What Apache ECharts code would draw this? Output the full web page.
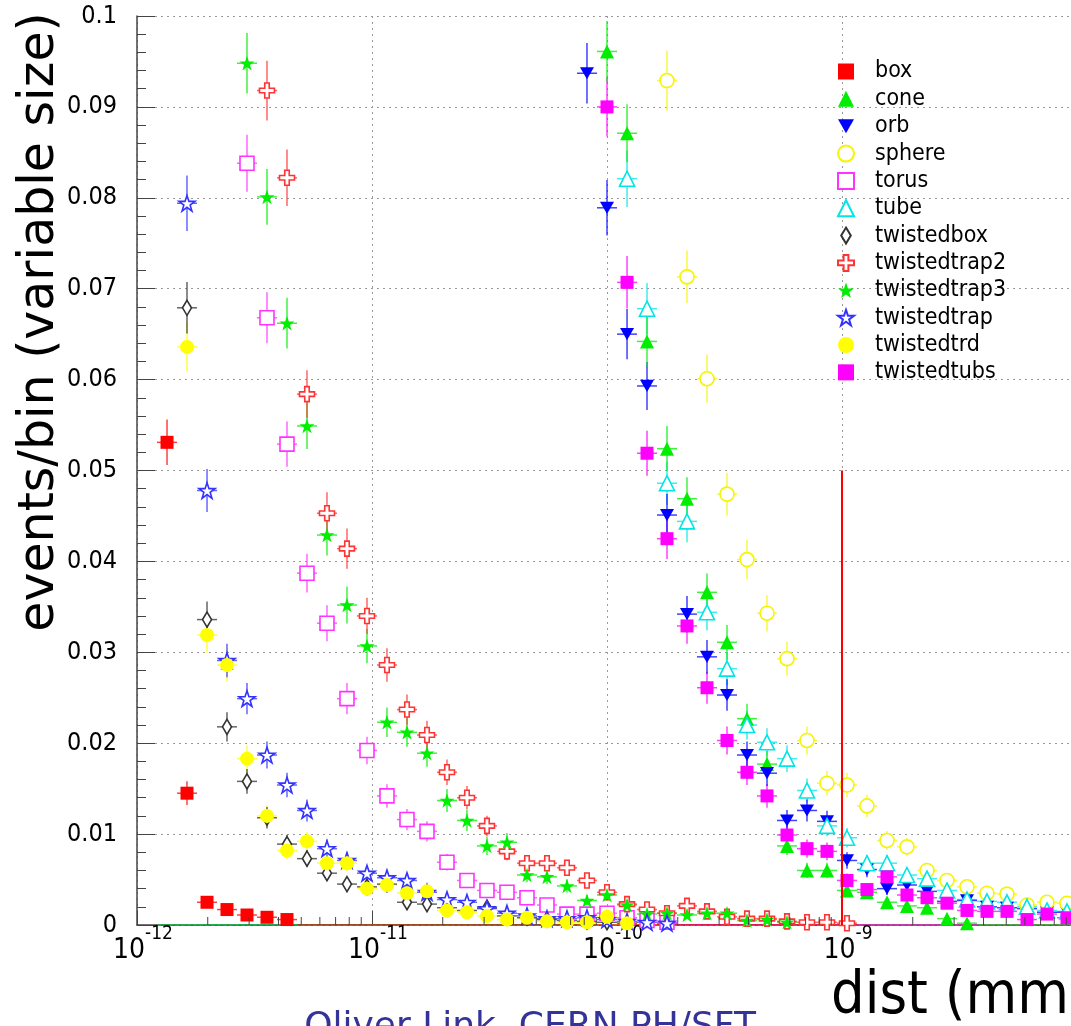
<!DOCTYPE html>
<html>
<head>
<meta charset="utf-8">
<script src="https://cdn.jsdelivr.net/npm/echarts@6/dist/echarts.min.js"></script>
<style>
  html, body { margin: 0; padding: 0; overflow: hidden; background: #fff; }
  #chart { width: 1100px; height: 1026px; }
</style>
</head>
<body>
<div id="chart"></div>
<script>
// bin centres (mm): 47 log bins over 1e-12 .. 1e-8, the first one is empty
const binCenters = [
  1.342e-12, 1.632e-12, 1.986e-12, 2.415e-12, 2.938e-12, 3.574e-12, 4.348e-12, 5.289e-12, 6.433e-12, 7.826e-12,
  9.521e-12, 1.158e-11, 1.409e-11, 1.714e-11, 2.085e-11, 2.536e-11, 3.085e-11, 3.753e-11, 4.566e-11, 5.554e-11,
  6.756e-11, 8.218e-11, 1.000e-10, 1.217e-10, 1.480e-10, 1.800e-10, 2.190e-10, 2.664e-10, 3.241e-10, 3.942e-10,
  4.796e-10, 5.834e-10, 7.096e-10, 8.633e-10, 1.050e-9, 1.277e-9, 1.554e-9, 1.890e-9, 2.300e-9, 2.797e-9,
  3.403e-9, 4.139e-9, 5.036e-9, 6.126e-9, 7.452e-9, 9.065e-9
]

// events/bin per solid
const box = [
  0.0531, 0.0145, 0.0025, 0.0017, 0.0011, 0.00085, 0.0006, 0, 0, 0,
  0, 0, 0, 0, 0, 0, 0, 0, 0, 0,
  0, 0, 0, 0, 0, 0, 0, 0, 0, 0,
  0, 0, 0, 0, 0, null, null, null, null, null,
  null, null, null, null, null, null
]
const cone = [
  0, 0, 0, 0, 0, 0, 0, 0, 0, 0,
  0, 0, 0, 0, 0, 0, 0, 0, 0, 0,
  0, 0, 0.0961, 0.0871, 0.0642, 0.0524, 0.0469, 0.0366, 0.0311, 0.0227,
  0.0177, 0.0087, 0.0060, 0.0060, 0.0038, 0.0036, 0.0025, 0.0021, 0.0019, 0.0007,
  0.0002, 0, 0, 0, 0, 0
]
const orb = [
  0, 0, 0, 0, 0, 0, 0, 0, 0, 0,
  0, 0, 0, 0, 0, 0, 0, 0, 0, 0,
  0, 0.0937, 0.0789, 0.0650, 0.0593, 0.0451, 0.0342, 0.0295, 0.0253, 0.0187,
  0.0167, 0.0115, 0.0126, 0.0114, 0.0071, 0.0061, 0.0040, 0.0044, 0.0037, 0.0026,
  0.0027, 0.0020, 0.0019, 0.0018, 0.0014, 0.0014
]
const sphere = [
  0, 0, 0, 0, 0, 0, 0, 0, 0, 0,
  0, 0, 0, 0, 0, 0, 0, 0, 0, 0,
  0, 0, 0, 0, 0, 0.0929, 0.0713, 0.0601, 0.0474, 0.0402,
  0.0343, 0.0293, 0.0203, 0.0156, 0.0154, 0.0131, 0.0093, 0.0086, 0.0060, 0.0049,
  0.0042, 0.0035, 0.0034, 0.0022, 0.0025, 0.0024
]
const torus = [
  0, 0, 0, 0, 0.0838, 0.0668, 0.0529, 0.0387, 0.0332, 0.0249,
  0.0192, 0.0142, 0.0116, 0.0103, 0.0069, 0.0049, 0.0038, 0.0036, 0.0030, 0.0022,
  0.0012, 0.0012, 0.0013, 0.0008, 0.0005, 0.0003, 0, 0, 0, 0,
  0, 0, 0, 0, 0, 0, 0, 0, 0, 0,
  0, 0, 0, 0, 0, 0
]
const tube = [
  0, 0, 0, 0, 0, 0, 0, 0, 0, 0,
  0, 0, 0, 0, 0, 0, 0, 0, 0, 0,
  0, 0, 0, 0.0821, 0.0678, 0.0486, 0.0444, 0.0344, 0.0282, 0.0220,
  0.0201, 0.0183, 0.0148, 0.0109, 0.0096, 0.0068, 0.0068, 0.0055, 0.0051, 0.0038,
  0.0028, 0.0026, 0.0025, 0.0020, 0.0016, 0.0015
]
const twistedbox = [
  0, 0.0679, 0.0336, 0.0218, 0.0158, 0.0118, 0.0089, 0.0073, 0.0057, 0.0045,
  0.0042, 0.0045, 0.0025, 0.0023, 0.0019, 0.0016, 0.0019, 0.0010, 0.0008, 0.0006,
  0.0005, 0.0004, 0.0003, 0.0002, 0, 0, 0, 0, 0, 0,
  0, 0, 0, 0, 0, 0, 0, 0, 0, 0,
  0, 0, 0, 0, 0, 0
]
const twistedtrap2 = [
  0, 0, 0, 0, 0, 0.0918, 0.0822, 0.0584, 0.0453, 0.0414,
  0.0340, 0.0286, 0.0237, 0.0209, 0.0168, 0.0140, 0.0109, 0.0081, 0.0068, 0.0068,
  0.0063, 0.0049, 0.0036, 0.0023, 0.0017, 0.0013, 0.0021, 0.0015, 0.0009, 0.0007,
  0.0007, 0.0004, 0.0003, 0.0003, 0.0002, 0, 0, 0, 0, 0,
  0, 0, 0, 0, 0, 0
]
const twistedtrap3 = [
  0, 0, 0, 0, 0.0948, 0.0801, 0.0662, 0.0549, 0.0429, 0.0352,
  0.0307, 0.0223, 0.0212, 0.0189, 0.0137, 0.0115, 0.0087, 0.0091, 0.0055, 0.0053,
  0.0043, 0.0027, 0.0033, 0.0022, 0.0012, 0.0013, 0.0011, 0.0013, 0.0013, 0.0005,
  0.0006, 0.0003, 0, 0, 0, 0, 0, 0, 0, 0,
  0, 0, 0, 0, 0, 0
]
const twistedtrap = [
  0, 0.0794, 0.0478, 0.0291, 0.0249, 0.0187, 0.0154, 0.0126, 0.0084, 0.0071,
  0.0057, 0.0052, 0.0049, 0.0036, 0.0028, 0.0025, 0.0018, 0.0013, 0.0010, 0.0007,
  0.0007, 0.0008, 0.0006, 0.0004, 0.0003, 0.0002, 0, 0, 0, 0,
  0, 0, 0, 0, 0, 0, 0, 0, 0, 0,
  0, 0, 0, 0, 0, 0
]
const twistedtrd = [
  0, 0.0636, 0.0319, 0.0286, 0.0183, 0.0120, 0.0082, 0.0092, 0.0068, 0.0068,
  0.0040, 0.0044, 0.0035, 0.0037, 0.0016, 0.0014, 0.0010, 0.0006, 0.0008, 0.0004,
  0.0003, 0.0003, 0.0009, 0.0002, 0, 0, 0, 0, 0, 0,
  0, 0, 0, 0, 0, 0, 0, 0, 0, 0,
  0, 0, 0, 0, 0, 0
]
const twistedtubs = [
  0, 0, 0, 0, 0, 0, 0, 0, 0, 0,
  0, 0, 0, 0, 0, 0, 0, 0, 0, 0,
  0, 0, 0.0900, 0.0707, 0.0519, 0.0425, 0.0329, 0.0261, 0.0203, 0.0168,
  0.0142, 0.0099, 0.0084, 0.0081, 0.0049, 0.0039, 0.0053, 0.0033, 0.0030, 0.0024,
  0.0016, 0.0015, 0.0015, 0.0006, 0.0012, 0.0008
]

// axis ticks
const yTicks = [0, 0.01, 0.02, 0.03, 0.04, 0.05, 0.06, 0.07, 0.08, 0.09, 0.1]
const xMinorTicks = [
  2e-12, 3e-12, 4e-12, 5e-12, 6e-12, 7e-12, 8e-12, 9e-12,
  2e-11, 3e-11, 4e-11, 5e-11, 6e-11, 7e-11, 8e-11, 9e-11,
  2e-10, 3e-10, 4e-10, 5e-10, 6e-10, 7e-10, 8e-10, 9e-10,
  2e-9, 3e-9, 4e-9, 5e-9, 6e-9, 7e-9, 8e-9, 9e-9
]

// red cut line at 1e-9 mm
const cutDist = 1e-9
const cutRange = [0, 0.05]

const eventsPerSolid = 8500      // for the sqrt(N) error bars
const binHalfWidth = Math.pow(10, 2 / 47)

const FONT = '"DejaVu Sans Condensed", "DejaVu Sans", sans-serif'

const STAR = 'path://M50,0L61.8,35.4L97.6,35.4L68.6,57.3L79.4,92.7L50,70.8L20.6,92.7L31.4,57.3L2.4,35.4L38.2,35.4Z'
const CROSS = 'path://M35,0H65V35H100V65H65V100H35V65H0V35H35Z'
const DIAMOND = 'path://M30,0L60,50L30,100L0,50Z'
const TRI_DOWN = 'path://M0,0L100,0L50,87Z'

const solids = [
  { name: 'box', values: box, color: '#ff0000', symbol: 'rect', size: 13, open: false },
  { name: 'cone', values: cone, color: '#00ee00', symbol: 'triangle', size: 14, open: false },
  { name: 'orb', values: orb, color: '#0000ff', symbol: TRI_DOWN, size: 14, open: false },
  { name: 'sphere', values: sphere, color: '#f5f500', symbol: 'circle', size: 14, open: true },
  { name: 'torus', values: torus, color: '#ff33ff', symbol: 'rect', size: 14, open: true },
  { name: 'tube', values: tube, color: '#00e5e5', symbol: 'triangle', size: 15, open: true },
  { name: 'twistedbox', values: twistedbox, color: '#333333', symbol: DIAMOND, size: 15, open: true },
  { name: 'twistedtrap2', values: twistedtrap2, color: '#ff3333', symbol: CROSS, size: 15, open: true },
  { name: 'twistedtrap3', values: twistedtrap3, color: '#00ee00', symbol: STAR, size: 15, open: false },
  { name: 'twistedtrap', values: twistedtrap, color: '#3333ff', symbol: STAR, size: 16, open: true },
  { name: 'twistedtrd', values: twistedtrd, color: '#ffff00', symbol: 'circle', size: 14, open: false },
  { name: 'twistedtubs', values: twistedtubs, color: '#ff00ff', symbol: 'rect', size: 13, open: false },
]

function pointsOf(values, keepZero) {
  const out = []
  values.forEach((v, i) => {
    if (v == null) return
    if (!keepZero && v <= 0) return
    out.push([binCenters[i], v])
  })
  return out
}

function markerSeries(s) {
  return {
    type: 'scatter',
    name: s.name,
    z: 4,
    symbol: s.symbol,
    symbolSize: s.size,
    symbolKeepAspect: true,
    itemStyle: s.open
      ? { color: '#ffffff', borderColor: s.color, borderWidth: 1.6, opacity: 1 }
      : { color: s.color, opacity: 1 },
    emphasis: { disabled: true },
    data: pointsOf(s.values, false),
  }
}

// vertical sqrt(N) error + horizontal bin width
function errorSeries(s) {
  return {
    type: 'custom',
    name: s.name + ' errors',
    z: 2,
    silent: true,
    clip: true,
    data: pointsOf(s.values, true),
    renderItem: (params, api) => {
      const x = api.value(0)
      const y = api.value(1)
      const err = Math.sqrt(y / eventsPerSolid)
      const left = api.coord([x / binHalfWidth, y])
      const right = api.coord([x * binHalfWidth, y])
      const style = { stroke: s.color, lineWidth: 1.5, opacity: 0.75 }
      const children = [
        { type: 'line', shape: { x1: left[0], y1: left[1], x2: right[0], y2: right[1] }, style },
      ]
      if (err > 0) {
        const top = api.coord([x, y + err])
        const bottom = api.coord([x, Math.max(y - err, 0)])
        children.push({ type: 'line', shape: { x1: top[0], y1: top[1], x2: bottom[0], y2: bottom[1] }, style })
      }
      return { type: 'group', children }
    },
  }
}

const chart = echarts.init(document.getElementById('chart'))

const option = {
  animation: false,
  backgroundColor: '#ffffff',
  grid: { left: 137, top: 16, width: 940, height: 909, containLabel: false, outerBoundsMode: 'none' },
  legend: {
    orient: 'vertical',
    left: 832,
    top: 55,
    itemWidth: 16,
    itemHeight: 16,
    itemGap: 4.35,
    selectedMode: false,
    data: solids.map(s => s.name),
    textStyle: { fontFamily: FONT, fontSize: 23, color: '#000', lineHeight: 16, padding: [0, 0, 0, 16] },
  },
  xAxis: {
    type: 'log',
    logBase: 10,
    min: 1e-12,
    max: 1e-8,
    axisLine: { show: true, onZero: false, lineStyle: { color: '#444', width: 1.5 } },
    axisTick: { show: true, inside: true, length: 14, lineStyle: { color: '#444' } },
    minorTick: { show: false },
    axisLabel: {
      margin: 0,
      showMaxLabel: false,
      padding: [0, 0, 0, 12],
      formatter: v => {
        const e = Math.round(Math.log10(v))
        if (e > -9) return ''
        return '{b|10}{e|' + e + '}'
      },
      rich: {
        b: { fontFamily: FONT, fontSize: 28, color: '#000', lineHeight: 40, verticalAlign: 'bottom' },
        e: { fontFamily: FONT, fontSize: 19, color: '#000', verticalAlign: 'top' },
      },
    },
    splitLine: { show: true, lineStyle: { color: '#9a9a9a', type: [2, 4], width: 1 } },
  },
  yAxis: {
    type: 'value',
    min: yTicks[0],
    max: yTicks[yTicks.length - 1],
    interval: yTicks[1] - yTicks[0],
    axisLine: { show: true, lineStyle: { color: '#444', width: 1.5 } },
    axisTick: { show: true, inside: true, length: 18, lineStyle: { color: '#444' } },
    minorTick: { show: true, splitNumber: 5, length: 9, lineStyle: { color: '#444' } },
    axisLabel: {
      margin: 20,
      fontFamily: FONT,
      fontSize: 25,
      color: '#000',
      formatter: v => String(+v.toFixed(3)),
    },
    splitLine: { show: true, lineStyle: { color: '#9a9a9a', type: [2, 4], width: 1 } },
  },
  graphic: [
    {
      type: 'text',
      x: 40,
      y: 322,
      rotation: Math.PI / 2,
      silent: true,
      style: {
        text: 'events/bin (variable size)',
        font: '49px "DejaVu Sans", sans-serif',
        fill: '#000',
        textAlign: 'center', align: 'center',
        textVerticalAlign: 'middle', verticalAlign: 'middle',
      },
    },
    {
      type: 'text',
      x: 831,
      y: 998,
      silent: true,
      style: {
        text: 'dist (mm)',
        font: '59px ' + FONT,
        fill: '#000',
        textAlign: 'left', align: 'left',
        textVerticalAlign: 'middle', verticalAlign: 'middle',
      },
    },
    {
      type: 'text',
      x: 530,
      y: 1028,
      silent: true,
      style: {
        text: 'Oliver Link, CERN PH/SFT',
        font: '36px "DejaVu Sans", sans-serif',
        fill: '#333399',
        textAlign: 'center', align: 'center',
        textVerticalAlign: 'middle', verticalAlign: 'middle',
      },
    },
  ],
  series: [
    ...solids.map(markerSeries),
    // box drawn last so its empty bins sit on top along the axis
    ...solids.slice().reverse().map(errorSeries),
    {
      type: 'custom',
      name: 'x minor ticks',
      silent: true,
      z: 6,
      data: xMinorTicks.map(v => [v, 0]),
      renderItem: (params, api) => {
        const p = api.coord([api.value(0), 0])
        return {
          type: 'line',
          shape: { x1: p[0], y1: p[1], x2: p[0], y2: p[1] - 8 },
          style: { stroke: '#444', lineWidth: 1 },
        }
      },
    },
    {
      type: 'line',
      name: 'cut',
      silent: true,
      z: 5,
      symbol: 'none',
      lineStyle: { color: '#ff0000', width: 2 },
      data: [[cutDist, cutRange[0]], [cutDist, cutRange[1]]],
    },
  ],
}

chart.setOption(option)
</script>
</body>
</html>
